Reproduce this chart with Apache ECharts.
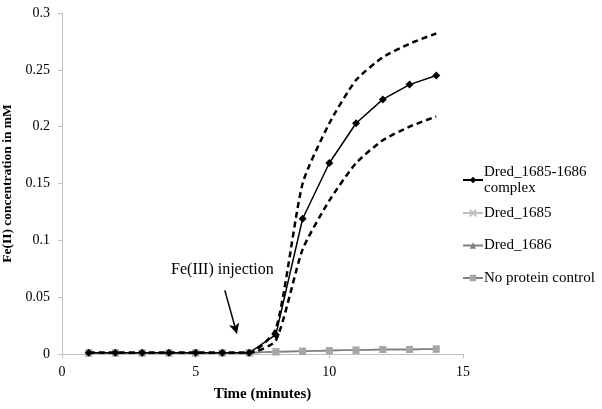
<!DOCTYPE html>
<html><head><meta charset="utf-8">
<script src="https://cdn.jsdelivr.net/npm/echarts@6/dist/echarts.min.js"></script>
<style>html,body{margin:0;padding:0;background:#fff}#c{width:602px;height:409px}</style>
</head><body><div id="c"></div>
<script>
const time = [1,2,3,4,5,6,7,8,9,10,11,12,13,14];
const complexVals = [0.001,0.001,0.001,0.001,0.001,0.001,0.001,0.017,0.119,0.168,0.203,0.224,0.237,0.245];
const upperVals   = [0.001,0.001,0.001,0.001,0.001,0.001,0.001,0.022,0.150,0.203,0.241,0.261,0.273,0.282];
const lowerVals   = [0.001,0.001,0.001,0.001,0.001,0.001,0.001,0.012,0.092,0.135,0.168,0.188,0.200,0.209];
const d1685Vals   = [0.001,0.001,0.001,0.001,0.001,0.001,0.001,0.002,0.0025,0.003,0.0035,0.004,0.004,0.0045];
const d1686Vals   = [0.001,0.001,0.001,0.001,0.001,0.001,0.001,0.002,0.0025,0.003,0.0035,0.004,0.004,0.0045];
const noProtVals  = [0.001,0.001,0.001,0.001,0.001,0.001,0.001,0.002,0.0025,0.003,0.0035,0.004,0.004,0.0045];
const yTicks = [0,0.05,0.1,0.15,0.2,0.25,0.3];
const xTicks = [0,5,10,15];
const seriesNames = ['Dred_1685-1686 complex','Dred_1685','Dred_1686','No protein control'];

const pair = v => time.map((t,i)=>[t,v[i]]);
const font = 'Liberation Serif, Times New Roman, serif';
const legText = {color:'#000',fontSize:15,fontFamily:font,lineHeight:16};
const chart = echarts.init(document.getElementById('c'), null, {renderer:'canvas'});
chart.setOption({
  animation:false,
  backgroundColor:'#fff',
  textStyle:{fontFamily:font},
  grid:{left:62,right:139,top:13,bottom:55,containLabel:false,outerBoundsMode:'none'},
  xAxis:{type:'value',min:xTicks[0],max:xTicks[xTicks.length-1],interval:5,
    axisLine:{lineStyle:{color:'#bfbfbf'}},
    axisTick:{show:true,inside:false,length:4,lineStyle:{color:'#bfbfbf'}},
    splitLine:{show:false},
    axisLabel:{color:'#000',fontSize:14,fontFamily:font,margin:11},
    name:'Time (minutes)',nameLocation:'middle',nameGap:33,
    nameTextStyle:{color:'#000',fontSize:15,fontWeight:'bold',fontFamily:font}},
  yAxis:{type:'value',min:yTicks[0],max:yTicks[yTicks.length-1],interval:0.05,
    axisLine:{show:true,lineStyle:{color:'#bfbfbf'}},
    axisTick:{show:true,inside:false,length:4,lineStyle:{color:'#bfbfbf'}},
    splitLine:{show:false},
    axisLabel:{color:'#000',fontSize:14,fontFamily:font,margin:12,formatter:v=>String(+v.toFixed(2))},
    name:'Fe(II) concentration in mM',nameLocation:'middle',nameGap:43,
    nameTextStyle:{color:'#000',fontSize:13.5,fontWeight:'bold',fontFamily:font}},
  legend:[
    {orient:'vertical',left:457,top:151,itemWidth:20,itemHeight:8,
      data:[{name:seriesNames[0],textStyle:{padding:[16,0,0,-4]}}],
      formatter:()=> 'Dred_1685-1686\ncomplex',
      textStyle:legText},
    {orient:'vertical',left:457,top:200,itemGap:16.5,itemWidth:20,itemHeight:8,
      data:seriesNames.slice(1),
      textStyle:Object.assign({padding:[0,0,0,-4]},legText)}
  ],
  series:[
    {name:'No protein control',type:'line',data:pair(noProtVals),symbol:'rect',symbolSize:7,
      lineStyle:{color:'#808080',width:1.5},itemStyle:{color:'#a6a6a6'},z:2},
    {name:'Dred_1686',type:'line',data:pair(d1686Vals),symbol:'triangle',symbolSize:7,
      lineStyle:{color:'#7f7f7f',width:1.5},itemStyle:{color:'#7f7f7f'},z:1},
    {name:'Dred_1685',type:'line',data:pair(d1685Vals),symbol:'path://M0,0L10,10M10,0L0,10',symbolSize:7,
      lineStyle:{color:'#bfbfbf',width:1.5},itemStyle:{color:'#bfbfbf',borderColor:'#bfbfbf',borderWidth:1},z:1},
    {name:'upper',type:'line',data:pair(upperVals),symbol:'none',smooth:0.2,
      lineStyle:{color:'#000',width:2.5,type:[6,4]},z:4},
    {name:'lower',type:'line',data:pair(lowerVals),symbol:'none',smooth:0.2,
      lineStyle:{color:'#000',width:2.5,type:[6,4]},z:4},
    {name:'Dred_1685-1686 complex',type:'line',data:pair(complexVals),symbol:'diamond',symbolSize:8,
      lineStyle:{color:'#000',width:1.5},itemStyle:{color:'#000'},z:5,
      markLine:{silent:true,symbol:['none','arrow'],symbolSize:[8,10],
        lineStyle:{color:'#000',width:1.5,type:'solid'},label:{show:false},
        data:[[{coord:[6.09,0.056]},{coord:[6.54,0.018]}]]},
      markPoint:{silent:true,symbol:'rect',symbolSize:1,itemStyle:{color:'rgba(0,0,0,0)'},
        label:{show:true,position:'inside',formatter:'Fe(III) injection',color:'#000',fontSize:16,fontFamily:font},
        data:[{coord:[6.0,0.074]}]}}
  ]
});
</script></body></html>
